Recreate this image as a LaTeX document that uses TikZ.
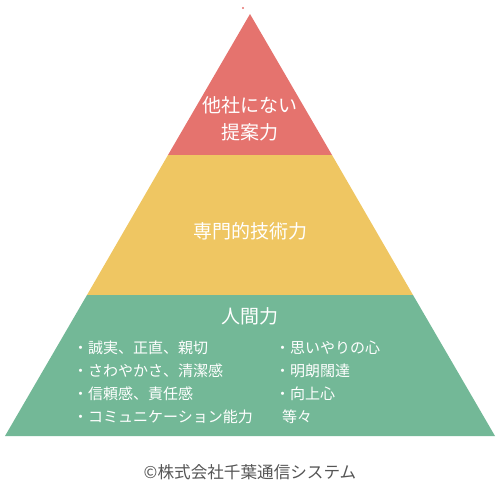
\documentclass[tikz,border=0pt]{standalone}
\usepackage{fontspec}
\setmainfont{Noto Sans CJK JP}
\definecolor{pred}{HTML}{E5736E}
\definecolor{pyel}{HTML}{EFC662}
\definecolor{pgrn}{HTML}{73B897}
\definecolor{cgray}{HTML}{555555}
\begin{document}
\begin{tikzpicture}[x=1pt,y=-1pt,
  title/.style={text=white,font=\fontsize{19}{22}\selectfont,inner sep=0pt,anchor=center},
  item/.style={text=white,font=\fontsize{15}{18}\selectfont,inner sep=0pt,anchor=west},
  copy/.style={text=cgray,font=\fontsize{16.6}{19}\selectfont,inner sep=0pt,anchor=center}]
\useasboundingbox (0,0) rectangle (500,488);
% layers
\coordinate (apex) at (250,14);
\fill[pred] (apex) -- (332,155) -- (168,155) -- cycle;
\fill[pyel] (168,155) -- (332,155) -- (413,295) -- (87,295) -- cycle;
\fill[pgrn] (87,295) -- (413,295) -- (495,436) -- (5,436) -- cycle;
\fill[pred] (243,8) circle (1.1);
% texts
\node[title] (t1) at (250,105) {他社にない};
\node[title] (t2) at (250,132) {提案力};
\node[title] (t3) at (250,231) {専門的技術力};
\node[title] (t4) at (250,316) {人間力};
\node[item] (l1) at (73,348) {・誠実、正直、親切};
\node[item] (l2) at (73,371) {・さわやかさ、清潔感};
\node[item] (l3) at (73,394) {・信頼感、責任感};
\node[item] (l4) at (73,417) {・コミュニケーション能力};
\node[item] (r1) at (275,348) {・思いやりの心};
\node[item] (r2) at (275,371) {・明朗闊達};
\node[item] (r3) at (275,394) {・向上心};
\node[item] (r4) at (282,417) {等々};
\node[copy] (c) at (250,472) {©株式会社千葉通信システム};
\end{tikzpicture}
\end{document}
